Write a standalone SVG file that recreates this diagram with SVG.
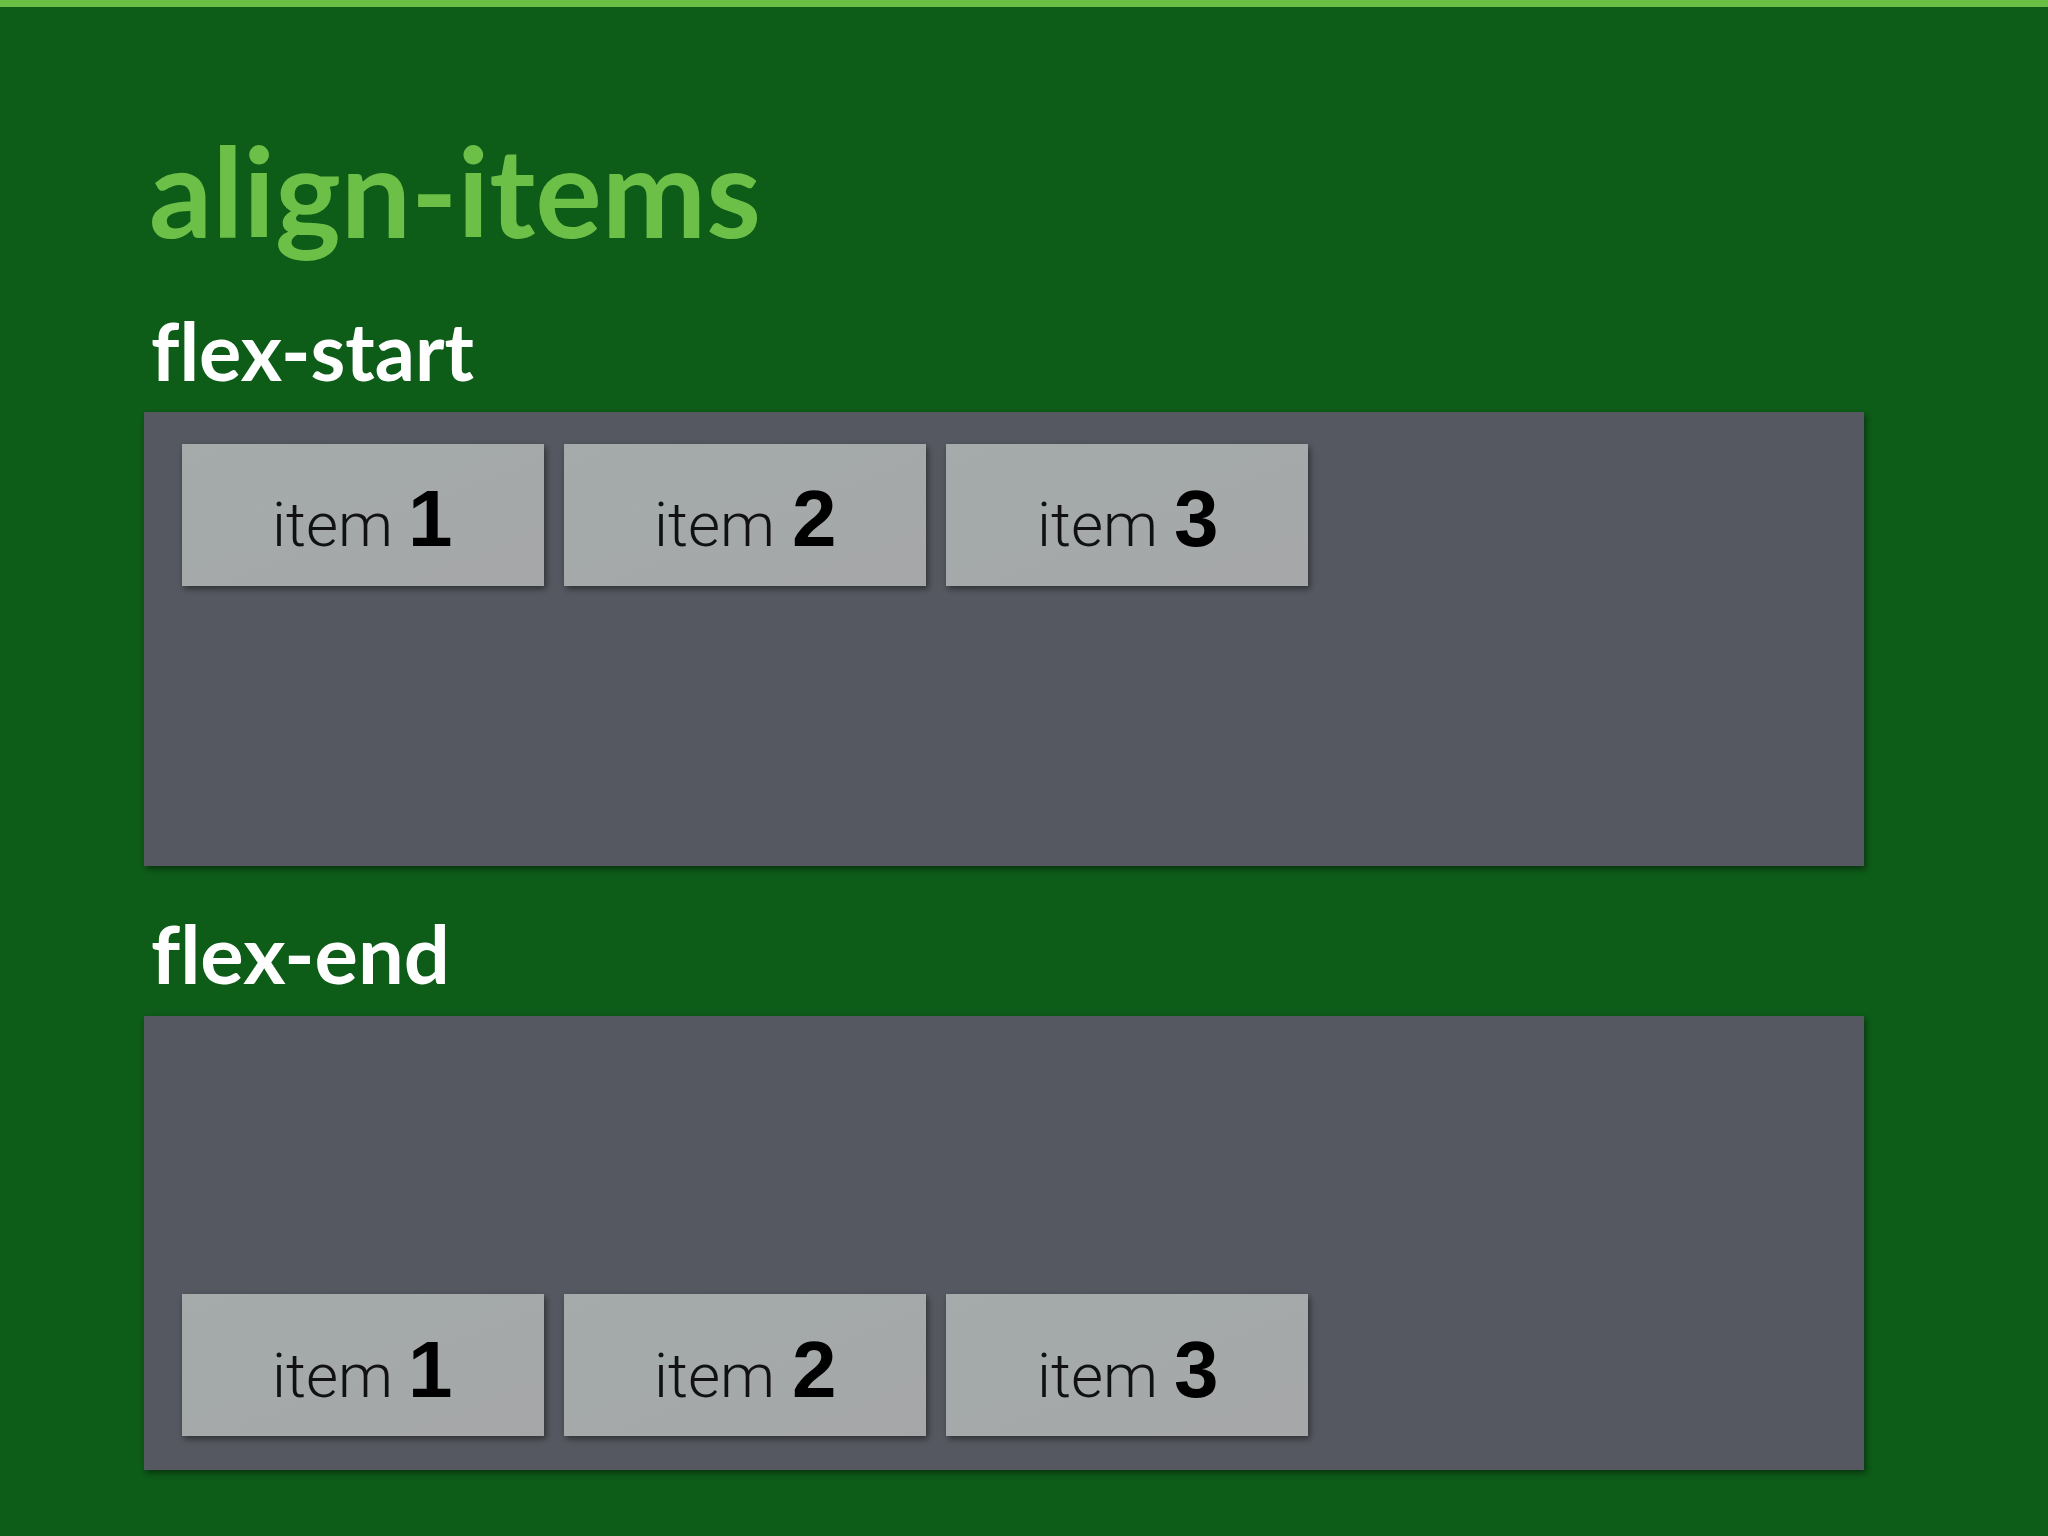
<svg xmlns="http://www.w3.org/2000/svg" width="2048" height="1536" viewBox="0 0 2048 1536">
  <defs>
    <filter id="shadow" x="-5%" y="-5%" width="110%" height="115%">
      <feDropShadow dx="2" dy="3" stdDeviation="3" flood-color="#000" flood-opacity="0.45"/>
    </filter>
    <linearGradient id="itemGrad" x1="0" y1="0" x2="1" y2="1">
      <stop offset="0" stop-color="#a4abaa"/>
      <stop offset="1" stop-color="#a6a7a9"/>
    </linearGradient>
  </defs>
  <style>
    .title { font-family: Lato, "Open Sans", sans-serif; font-weight: 700; fill: #6cbf47; font-variant-ligatures: none; font-feature-settings: "liga" 0, "clig" 0, "dlig" 0; }
    .label { font-family: Lato, "Open Sans", sans-serif; font-weight: 700; fill: #ffffff; font-variant-ligatures: none; font-feature-settings: "liga" 0, "clig" 0, "dlig" 0; }
    .container { fill: #545961; filter: url(#shadow); }
    .item { fill: url(#itemGrad); filter: url(#shadow); }
    .word { font-family: Roboto, "Liberation Sans", sans-serif; font-weight: 300; font-size: 62px; fill: #111; }
    .num { font-family: "Liberation Sans", Arial, sans-serif; font-weight: 700; font-size: 80px; fill: #000; }
  </style>
  <rect x="0" y="0" width="2048" height="1536" fill="#0d5c18"/>
  <rect x="0" y="0" width="2048" height="7" fill="#6abf45"/>

  <text class="title" x="149" y="238" font-size="124" textLength="612" lengthAdjust="spacingAndGlyphs">align-items</text>

  <g id="flex-start">
    <text class="label" x="151" y="381" font-size="80" textLength="323" lengthAdjust="spacingAndGlyphs">flex-start</text>
    <rect class="container" x="144" y="412" width="1720" height="454"/>
    <g id="fs-item1">
      <rect class="item" x="182" y="444" width="362" height="142"/>
      <text y="546"><tspan class="word" x="272">item</tspan><tspan class="num" x="408">1</tspan></text>
    </g>
    <g id="fs-item2">
      <rect class="item" x="564" y="444" width="362" height="142"/>
      <text y="546"><tspan class="word" x="654">item</tspan><tspan class="num" x="792">2</tspan></text>
    </g>
    <g id="fs-item3">
      <rect class="item" x="946" y="444" width="362" height="142"/>
      <text y="546"><tspan class="word" x="1037">item</tspan><tspan class="num" x="1174">3</tspan></text>
    </g>
  </g>

  <g id="flex-end">
    <text class="label" x="151" y="984" font-size="80" textLength="299" lengthAdjust="spacingAndGlyphs">flex-end</text>
    <rect class="container" x="144" y="1016" width="1720" height="454"/>
    <g id="fe-item1">
      <rect class="item" x="182" y="1294" width="362" height="142"/>
      <text y="1397"><tspan class="word" x="272">item</tspan><tspan class="num" x="408">1</tspan></text>
    </g>
    <g id="fe-item2">
      <rect class="item" x="564" y="1294" width="362" height="142"/>
      <text y="1397"><tspan class="word" x="654">item</tspan><tspan class="num" x="792">2</tspan></text>
    </g>
    <g id="fe-item3">
      <rect class="item" x="946" y="1294" width="362" height="142"/>
      <text y="1397"><tspan class="word" x="1037">item</tspan><tspan class="num" x="1174">3</tspan></text>
    </g>
  </g>

  <g id="connectors"/>
</svg>
